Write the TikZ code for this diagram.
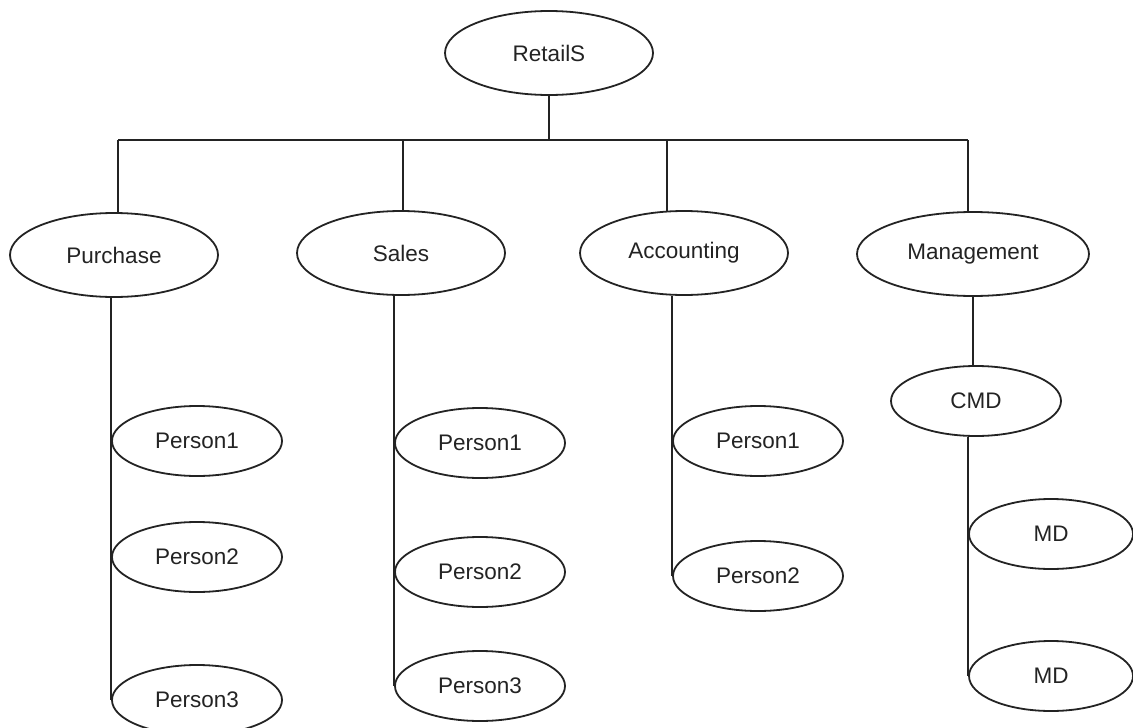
\documentclass[tikz,border=0pt]{standalone}
\usepackage{fontspec}
\setmainfont{Liberation Sans}
\usetikzlibrary{shapes.geometric}
\definecolor{ink}{RGB}{35,35,35}
\tikzset{
  oval/.style={ellipse, draw=ink, line width=1.8pt, inner sep=0pt,
    font=\fontsize{22.5}{26}\selectfont, text=ink},
  big/.style={oval, minimum width=208pt, minimum height=84pt},
  small/.style={oval, minimum width=170pt, minimum height=70pt},
  link/.style={draw=ink, line width=1.8pt}
}
\begin{document}
\begin{tikzpicture}[x=1pt,y=-1pt]
\useasboundingbox (0,0) rectangle (1133,728);

% root and first level
\node[big] (root) at (549,53) {RetailS};
\node[big] (pur) at (114,255) {Purchase};
\node[big] (sal) at (401,253) {Sales};
\node[big] (acc) at (684,253) {Accounting};
\node[big, minimum width=232pt] (man) at (973,254) {Management};

% staff under each department
\node[small] (pp1) at (197,441) {Person1};
\node[small] (pp2) at (197,557) {Person2};
\node[small] (pp3) at (197,700) {Person3};

\node[small] (sp1) at (480,443) {Person1};
\node[small] (sp2) at (480,572) {Person2};
\node[small] (sp3) at (480,686) {Person3};

\node[small] (ap1) at (758,441) {Person1};
\node[small] (ap2) at (758,576) {Person2};

\node[small] (cmd) at (976,401) {CMD};
\node[small, minimum width=164pt] (md1) at (1051,534) {MD};
\node[small, minimum width=164pt] (md2) at (1051,676) {MD};

% bus below the root
\coordinate (b1) at (118,140);
\coordinate (b2) at (403,140);
\coordinate (b3) at (667,140);
\coordinate (b4) at (968,140);
\draw[link] (root.south) -- (root.south |- b1);
\draw[link] (b1) -- (b4);
\draw[link] (b1) -- (b1 |- pur.north);
\draw[link] (b2) -- (b2 |- sal.north);
\draw[link] (b3) -- ([yshift=-2pt]b3 |- acc.north);
\draw[link] (b4) -- (b4 |- man.north);

% vertical spines of each department
\draw[link] (pp3.west |- pur.south) -- (pp3.west);
\draw[link] (sp3.west |- sal.south) -- (sp3.west);
\draw[link] (ap2.west |- acc.south) -- (ap2.west);
\draw[link] (man.south) -- (man.south |- cmd.north);
\draw[link] (md2.west |- cmd.south) -- (md2.west);
\end{tikzpicture}
\end{document}
